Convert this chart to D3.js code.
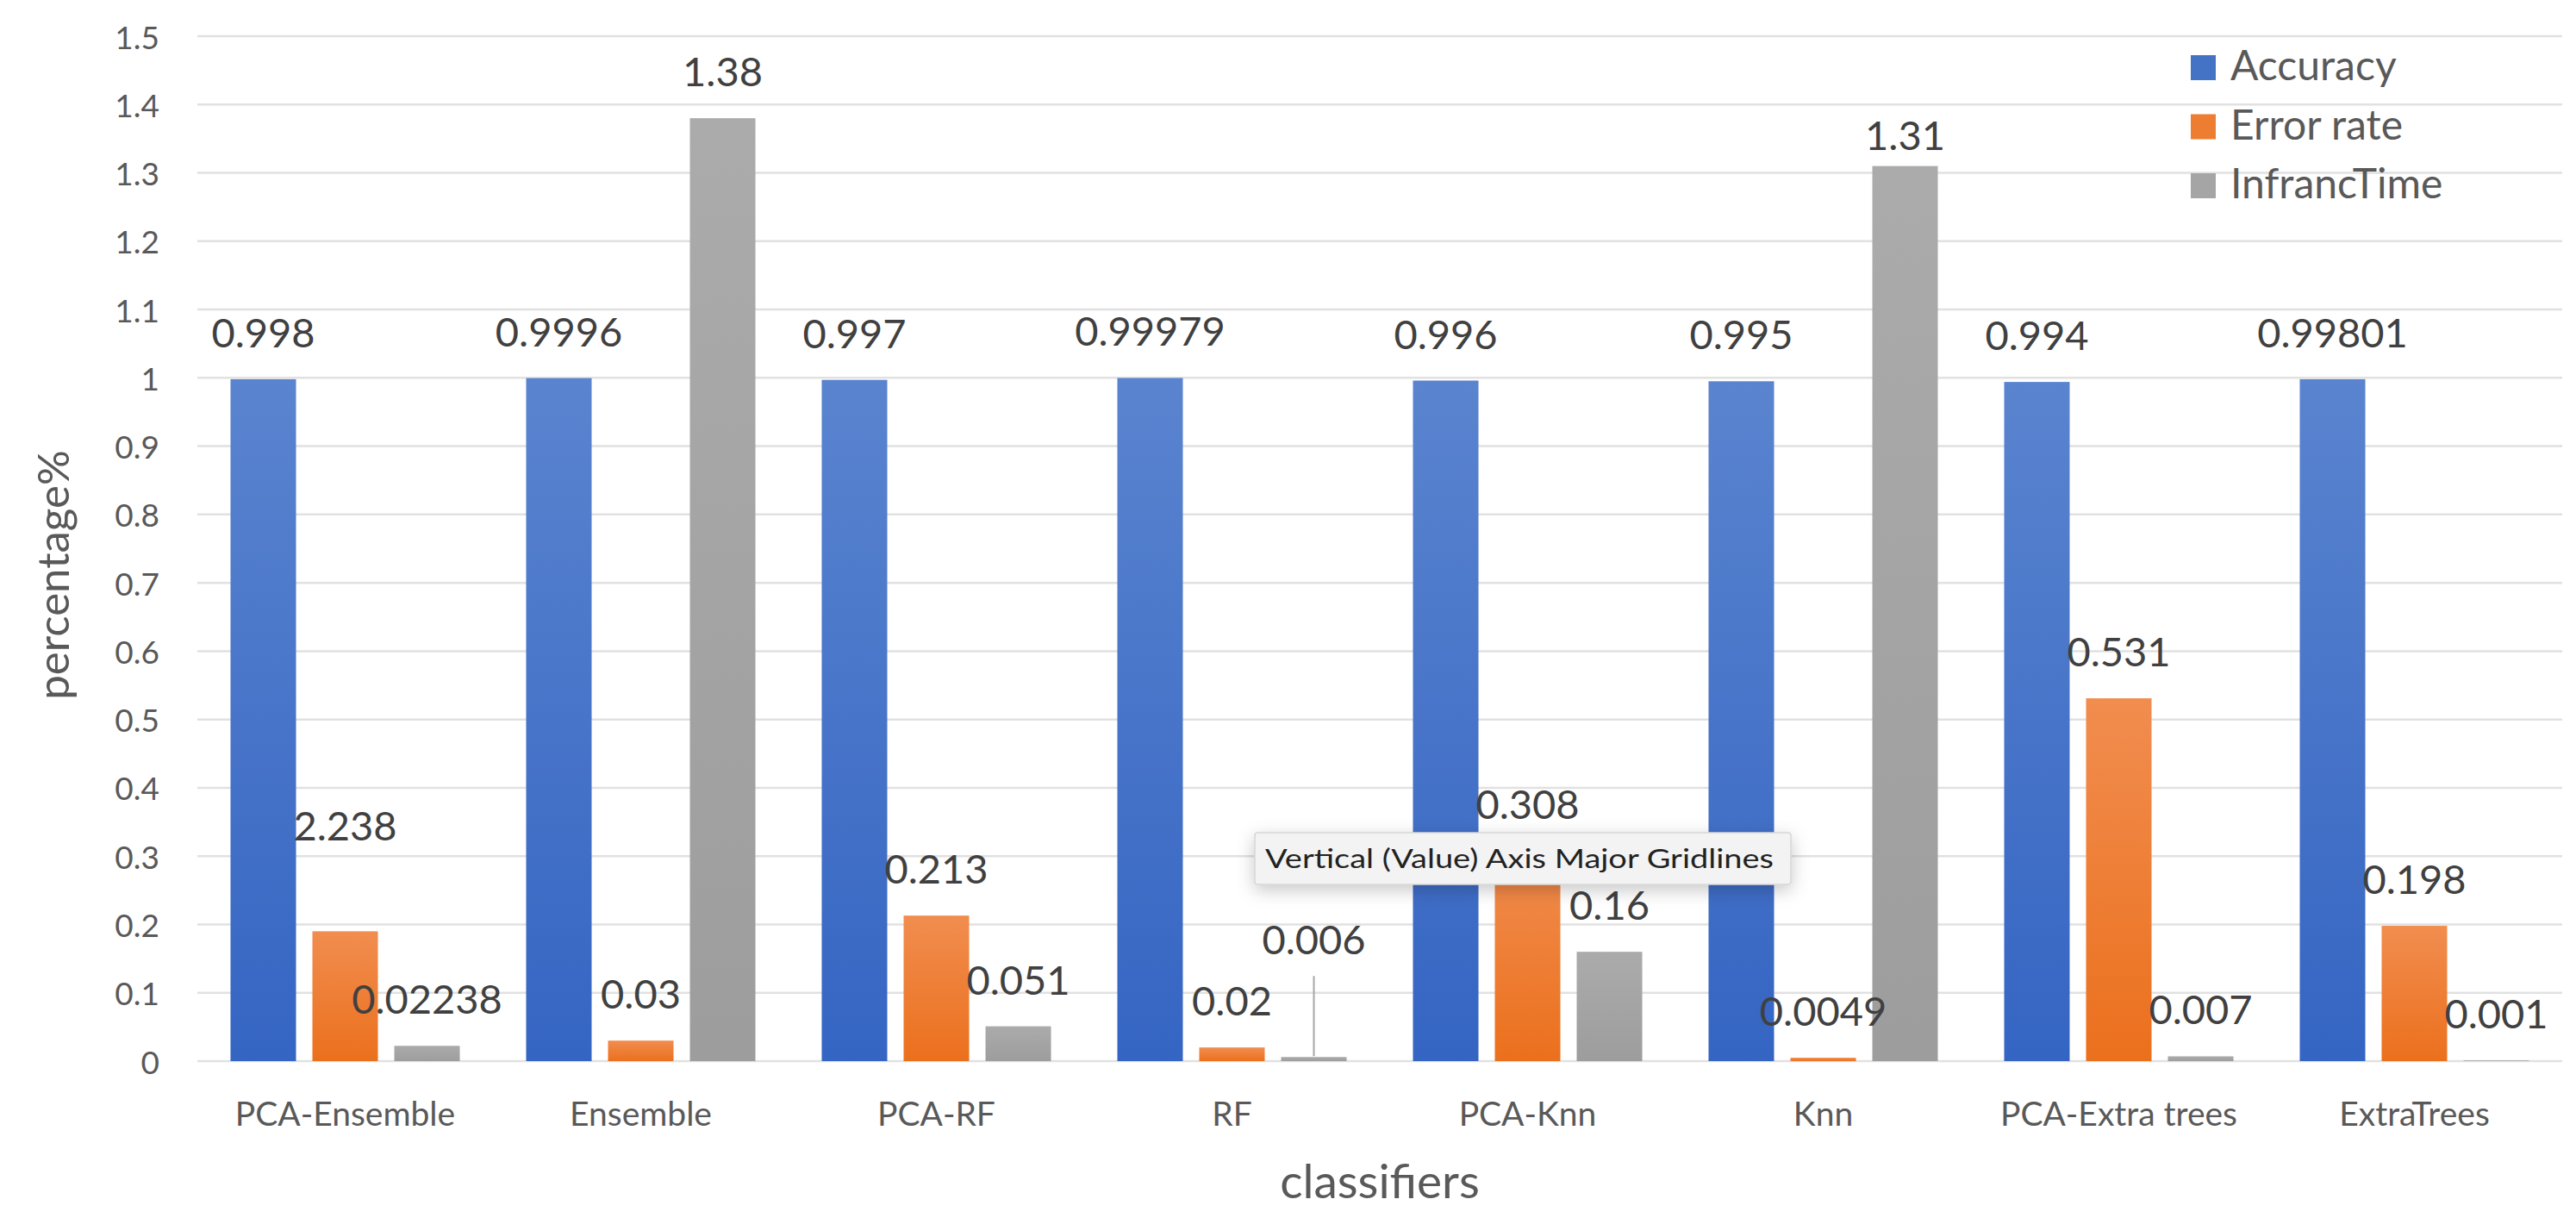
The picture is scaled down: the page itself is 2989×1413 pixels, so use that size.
<!DOCTYPE html>
<html>
<head>
<meta charset="utf-8">
<script src="https://cdn.jsdelivr.net/npm/d3@7"></script>
<style>
  html, body { margin: 0; padding: 0; background: #ffffff; }
  svg { display: block; }
  text { font-family: Lato, "Open Sans", "DejaVu Sans", sans-serif; }
</style>
</head>
<body>
<svg id="chart" width="2989" height="1413"></svg>
<script>
// ---- data ----
const categories = ["PCA-Ensemble", "Ensemble", "PCA-RF", "RF", "PCA-Knn", "Knn", "PCA-Extra trees", "ExtraTrees"];
const seriesNames = ["Accuracy", "Error rate", "InfrancTime"];
const accuracy    = [0.998, 0.9996, 0.997, 0.99979, 0.996, 0.995, 0.994, 0.99801];
const errorRate   = [0.19, 0.03, 0.213, 0.02, 0.308, 0.0049, 0.531, 0.198];
const infrancTime = [0.02238, 1.38, 0.051, 0.006, 0.16, 1.31, 0.007, 0.001];
const accuracyLabels    = ["0.998", "0.9996", "0.997", "0.99979", "0.996", "0.995", "0.994", "0.99801"];
const errorRateLabels   = ["2.238", "0.03", "0.213", "0.02", "0.308", "0.0049", "0.531", "0.198"];
const infrancTimeLabels = ["0.02238", "1.38", "0.051", "0.006", "0.16", "1.31", "0.007", "0.001"];
const yTicks = [0, 0.1, 0.2, 0.3, 0.4, 0.5, 0.6, 0.7, 0.8, 0.9, 1, 1.1, 1.2, 1.3, 1.4, 1.5];
const yTickLabels = ["0", "0.1", "0.2", "0.3", "0.4", "0.5", "0.6", "0.7", "0.8", "0.9", "1", "1.1", "1.2", "1.3", "1.4", "1.5"];
const xTitle = "classifiers";
const yTitle = "percentage%";
const tooltipText = "Vertical (Value) Axis Major Gridlines";

// ---- styling / layout ----
const colors = ["#4472C4", "#ED7D31", "#A5A5A5"];
const gradTop = ["#5a84cf", "#f18d4f", "#ababab"];
const gradBot = ["#3565c3", "#eb701d", "#9d9d9d"];
const plot = { left: 229, right: 2973, top: 42, bottom: 1231 };
const labelGap = 37;
// manual extra lift (px) of a few moved data labels, key "series-category"
const extraLift = { "1-0": 68, "2-3": 82, "2-5": -18 };

const series = [accuracy, errorRate, infrancTime];
const seriesLabels = [accuracyLabels, errorRateLabels, infrancTimeLabels];

const svg = d3.select("#chart");
svg.append("rect").attr("width", 2989).attr("height", 1413).attr("fill", "#ffffff");

const defs = svg.append("defs");
colors.forEach((c, i) => {
  const g = defs.append("linearGradient").attr("id", "g" + i)
    .attr("x1", 0).attr("y1", 0).attr("x2", 0).attr("y2", 1);
  g.append("stop").attr("offset", "0%").attr("stop-color", gradTop[i]);
  g.append("stop").attr("offset", "100%").attr("stop-color", gradBot[i]);
});
const f = defs.append("filter").attr("id", "shadow")
  .attr("x", "-10%").attr("y", "-60%").attr("width", "120%").attr("height", "240%");
f.append("feDropShadow").attr("dx", 0).attr("dy", 6).attr("stdDeviation", 10)
  .attr("flood-color", "#000").attr("flood-opacity", 0.22);

const x0 = d3.scaleBand().domain(categories).range([plot.left, plot.right]).paddingInner(0).paddingOuter(0);
const x1 = d3.scaleBand().domain(d3.range(seriesNames.length)).range([0, x0.bandwidth()])
  .paddingInner(0.2).paddingOuter(0.405);
const y = d3.scaleLinear().domain([0, 1.5]).range([plot.bottom, plot.top]);

// gridlines
svg.append("g").selectAll("line").data(yTicks).join("line")
  .attr("x1", plot.left).attr("x2", plot.right)
  .attr("y1", d => y(d)).attr("y2", d => y(d))
  .attr("stroke", "#e1e1e1").attr("stroke-width", 2.5);

// y tick labels
svg.append("g").selectAll("text").data(yTicks).join("text")
  .attr("x", 185).attr("y", d => y(d))
  .attr("text-anchor", "end").attr("dominant-baseline", "central")
  .attr("font-size", 37).attr("fill", "#595959")
  .text((d, i) => yTickLabels[i]);

// bars
const rows = [];
series.forEach((vals, s) => vals.forEach((v, c) => rows.push({ s, c, v, label: seriesLabels[s][c] })));

svg.append("g").selectAll("rect").data(rows).join("rect")
  .attr("x", d => x0(categories[d.c]) + x1(d.s))
  .attr("width", x1.bandwidth())
  .attr("y", d => y(d.v))
  .attr("height", d => y(0) - y(d.v))
  .attr("fill", d => `url(#g${d.s})`);

// leader line for the moved 0.006 label
rows.filter(d => d.s === 2 && d.c === 3).forEach(d => {
  const cx = x0(categories[d.c]) + x1(d.s) + x1.bandwidth() / 2;
  svg.append("line")
    .attr("x1", cx).attr("x2", cx)
    .attr("y1", y(d.v) - labelGap - extraLift[`${d.s}-${d.c}`] + 25)
    .attr("y2", y(d.v) - 1)
    .attr("stroke", "#a6a6a6").attr("stroke-width", 2);
});

// value labels
svg.append("g").selectAll("text").data(rows).join("text")
  .attr("x", d => x0(categories[d.c]) + x1(d.s) + x1.bandwidth() / 2)
  .attr("y", d => y(d.v) - labelGap - (extraLift[`${d.s}-${d.c}`] || 0))
  .attr("text-anchor", "middle")
  .attr("font-size", 47).attr("fill", "#404040")
  .text(d => d.label);

// category labels
svg.append("g").selectAll("text").data(categories).join("text")
  .attr("x", d => x0(d) + x0.bandwidth() / 2).attr("y", 1306)
  .attr("text-anchor", "middle").attr("font-size", 39).attr("fill", "#595959")
  .text(d => d);

// axis titles
svg.append("text").attr("x", (plot.left + plot.right) / 2).attr("y", 1390)
  .attr("text-anchor", "middle").attr("font-size", 55).attr("fill", "#595959").text(xTitle);
svg.append("text").attr("transform", "translate(80,667) rotate(-90)")
  .attr("text-anchor", "middle").attr("font-size", 51).attr("fill", "#595959").text(yTitle);

// legend
const leg = svg.append("g").selectAll("g").data(seriesNames).join("g")
  .attr("transform", (d, i) => `translate(2542,${93 + i * 68.5})`);
leg.append("rect").attr("x", 0).attr("y", -29).attr("width", 29).attr("height", 29)
  .attr("fill", (d, i) => colors[i]);
leg.append("text").attr("x", 46).attr("y", 0).attr("font-size", 48).attr("fill", "#595959").text(d => d);

// tooltip
const tip = svg.append("g").attr("transform", "translate(1456,966)");
tip.append("rect").attr("width", 622).attr("height", 60).attr("rx", 3)
  .attr("fill", "#f3f3f3").attr("stroke", "#d6d6d6").attr("stroke-width", 1.5)
  .attr("filter", "url(#shadow)");
tip.append("text").attr("x", 12).attr("y", 41).attr("font-size", 31).attr("fill", "#222222")
  .attr("textLength", 590).attr("lengthAdjust", "spacingAndGlyphs")
  .text(tooltipText);
</script>
</body>
</html>
